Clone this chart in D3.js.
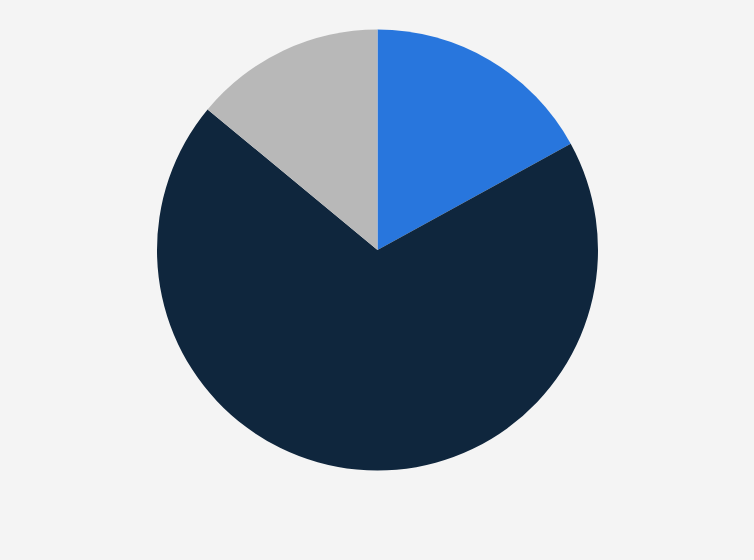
<!DOCTYPE html>
<html>
	<head>
		<meta charset="UTF-8">
		<title>Pie chart</title>
		<style>
			html, body { margin: 0; padding: 0; background: #f4f4f4; }
		</style>
	</head>
	<body>
		<div id="chart"></div>
		<script src="https://cdn.jsdelivr.net/npm/d3@7/dist/d3.min.js"></script>
		<script>
			// slice data (clockwise from 12 o'clock)
			var categories = ["A", "B", "C"];
			var values = [17, 69, 14];
			var colors = ["#2876dd", "#0f263d", "#b8b8b8"];

			var width = 754,
				height = 560,
				cx = 377.5,
				cy = 250,
				radius = 220.5;

			var svg = d3.select("#chart")
				.append("svg")
				.attr("width", width)
				.attr("height", height);

			svg.append("rect")
				.attr("width", width)
				.attr("height", height)
				.attr("fill", "#f4f4f4");

			var pie = d3.pie()
				.sort(null)
				.value(function(d) { return d; });

			var arc = d3.arc()
				.innerRadius(0)
				.outerRadius(radius);

			var color = d3.scaleOrdinal()
				.domain(categories)
				.range(colors);

			svg.append("g")
				.attr("transform", "translate(" + cx + "," + cy + ")")
				.selectAll("path")
				.data(pie(values))
				.join("path")
				.attr("d", arc)
				.attr("fill", function(d, i) { return color(categories[i]); });
		</script>
	</body>
</html>
